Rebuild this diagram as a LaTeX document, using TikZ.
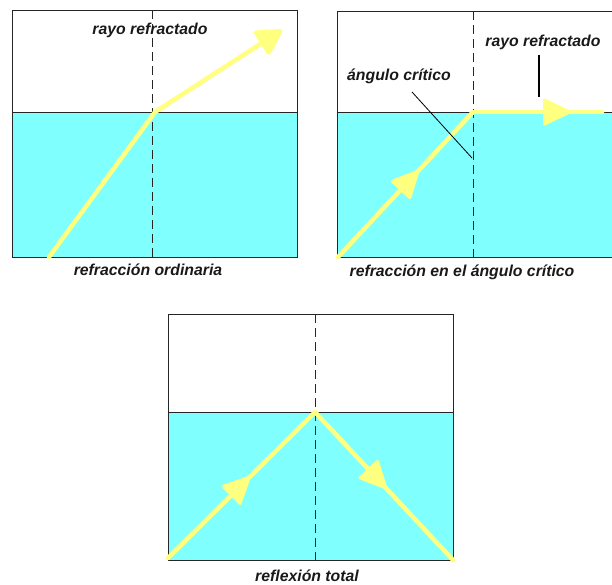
\documentclass[tikz,border=0pt]{standalone}
\usepackage{fontspec}
\setmainfont{Liberation Sans}
\usepackage{tikz}
\usetikzlibrary{
  arrows.meta,
  positioning,
  decorations.markings,
}
\definecolor{waterFill}{HTML}{80FFFF}
\definecolor{rayYellow}{HTML}{FFFF80}
\tikzset{
  tank/.style={draw=black!85, line width=0.9pt},
  normalLine/.style={draw=black!85, line width=0.9pt, dash pattern=on 9pt off 5pt},
  rayLine/.style={draw=rayYellow, line width=4.5pt, line cap=round, line join=round},
  rayMid/.style={
    rayLine, postaction=decorate,
    decoration={markings, mark=at position #1 with
      {\arrow[rayYellow, line width=3pt]{Triangle[length=30pt,width=28pt,round]}}},
  },
  leaderThin/.style={draw=black, line width=0.8pt},
  leaderThick/.style={draw=black, line width=1.5pt},
  txtLabel/.style={font=\bfseries\itshape\fontsize{15.8}{18}\selectfont, text=black!90, inner sep=1pt},
}

\begin{document}
\begin{tikzpicture}[x=1pt, y=-1pt]
\useasboundingbox (0,0) rectangle (612,585);

% refraccion ordinaria
\fill[waterFill] (12,112) rectangle (297,257);
\draw[tank] (12,10) rectangle (297,257);
\draw[tank] (12,112) -- (298,112);
\draw[normalLine] (152,10) -- (152,257);
\coordinate (ordIn) at (49,257);
\coordinate (ordHit) at (155,112);
\coordinate (ordOut) at (282,30);
\draw[rayLine, -{Triangle[length=28pt,width=30pt,round]}] (ordIn) -- (ordHit) -- (ordOut);
\node[txtLabel] (ordRayo) at (150,30) {rayo refractado};
\node[txtLabel] (ordCap) at (148,270) {refracción ordinaria};

% refraccion en el angulo critico
\fill[waterFill] (337,112) rectangle (612,257);
\draw[tank] (612,11) -- (337,11) -- (337,257) -- (612,257);
\draw[tank] (337,112) -- (612,112);
\draw[normalLine] (473,11) -- (473,260);
\coordinate (critIn) at (338,257);
\coordinate (critHit) at (473,112);
\coordinate (critOut) at (602,112);
\draw[rayMid=0.6] (critIn) -- (critHit);
\draw[rayMid=0.76] (critHit) -- (critOut);
\node[txtLabel] (critAngulo) at (399,76) {ángulo crítico};
\node[txtLabel] (critRayo) at (543,42) {rayo refractado};
\coordinate (critAngFrom) at (412,92);
\coordinate (critAngTo) at (472,158);
\coordinate (critRayFrom) at (539,55);
\coordinate (critRayTo) at (539,97);
\draw[leaderThin] (critAngFrom) -- (critAngTo);
\draw[leaderThick] (critRayFrom) -- (critRayTo);
\node[txtLabel] (critCap) at (462,272) {refracción en el ángulo crítico};

% reflexion total
\fill[waterFill] (168,412) rectangle (453,560);
\draw[tank] (168,314) rectangle (453,560);
\draw[tank] (168,412) -- (453,412);
\draw[normalLine] (315,314) -- (315,560);
\coordinate (totIn) at (168,558);
\coordinate (totHit) at (315,412);
\coordinate (totOut) at (453,560);
\draw[rayMid=0.56] (totIn) -- (totHit);
\draw[rayMid=0.52] (totHit) -- (totOut);
\node[txtLabel] (totCap) at (307,576) {reflexión total};
\end{tikzpicture}
\end{document}
